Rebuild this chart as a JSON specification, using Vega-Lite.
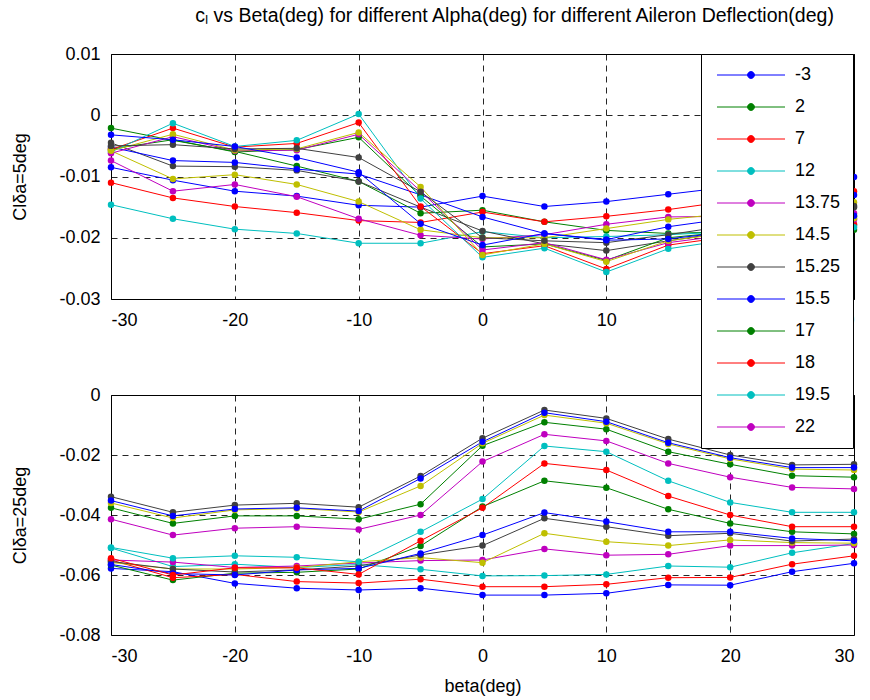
{
"$schema": "https://vega.github.io/schema/vega-lite/v6.json",
"padding": {"left": 11, "top": 6, "right": 14, "bottom": 5},
"title": {"text": "cₗ vs Beta(deg) for different Alpha(deg) for different Aileron Deflection(deg)", "fontSize": 19.5, "fontWeight": "normal", "font": "Liberation Sans", "color": "black", "offset": 18, "anchor": "middle", "dx": 80},
"config": {
  "font": "Liberation Sans",
  "locale": {"number": {"decimal": ".", "thousands": ",", "grouping": [3], "currency": ["$", ""], "minus": "-"}},
  "view": {"stroke": "black", "strokeWidth": 1},
  "axis": {"grid": true, "gridColor": "black", "gridDash": [6, 5], "gridOpacity": 0.85, "gridWidth": 1, "domain": false, "ticks": false, "labelFontSize": 18, "labelColor": "black", "titleFontSize": 18, "titleFontWeight": "normal", "titleColor": "black", "labelFont": "Liberation Sans", "titleFont": "Liberation Sans"},
  "axisX": {"labelPadding": 12},
  "axisY": {"labelPadding": 11, "titlePadding": 29},
  "legend": {"orient": "none"}
},
"spacing": 55,
"datasets": {
"cl": [
{"panel":"top","alpha":"-3","beta":-30,"cl":-0.0085},{"panel":"top","alpha":"-3","beta":-25,"cl":-0.0106},{"panel":"top","alpha":"-3","beta":-20,"cl":-0.0124},{"panel":"top","alpha":"-3","beta":-15,"cl":-0.0132},{"panel":"top","alpha":"-3","beta":-10,"cl":-0.0147},{"panel":"top","alpha":"-3","beta":-5,"cl":-0.0150},{"panel":"top","alpha":"-3","beta":0,"cl":-0.0132},{"panel":"top","alpha":"-3","beta":5,"cl":-0.0149},{"panel":"top","alpha":"-3","beta":10,"cl":-0.0141},{"panel":"top","alpha":"-3","beta":15,"cl":-0.0129},{"panel":"top","alpha":"-3","beta":20,"cl":-0.0117},{"panel":"top","alpha":"-3","beta":25,"cl":-0.0108},{"panel":"top","alpha":"-3","beta":30,"cl":-0.0101},
{"panel":"top","alpha":"2","beta":-30,"cl":-0.0021},{"panel":"top","alpha":"2","beta":-25,"cl":-0.0041},{"panel":"top","alpha":"2","beta":-20,"cl":-0.0059},{"panel":"top","alpha":"2","beta":-15,"cl":-0.0083},{"panel":"top","alpha":"2","beta":-10,"cl":-0.0108},{"panel":"top","alpha":"2","beta":-5,"cl":-0.0160},{"panel":"top","alpha":"2","beta":0,"cl":-0.0155},{"panel":"top","alpha":"2","beta":5,"cl":-0.0174},{"panel":"top","alpha":"2","beta":10,"cl":-0.0188},{"panel":"top","alpha":"2","beta":15,"cl":-0.0193},{"panel":"top","alpha":"2","beta":20,"cl":-0.0190},{"panel":"top","alpha":"2","beta":25,"cl":-0.0189},{"panel":"top","alpha":"2","beta":30,"cl":-0.0187},
{"panel":"top","alpha":"7","beta":-30,"cl":-0.0110},{"panel":"top","alpha":"7","beta":-25,"cl":-0.0135},{"panel":"top","alpha":"7","beta":-20,"cl":-0.0149},{"panel":"top","alpha":"7","beta":-15,"cl":-0.0159},{"panel":"top","alpha":"7","beta":-10,"cl":-0.0172},{"panel":"top","alpha":"7","beta":-5,"cl":-0.0175},{"panel":"top","alpha":"7","beta":0,"cl":-0.0158},{"panel":"top","alpha":"7","beta":5,"cl":-0.0174},{"panel":"top","alpha":"7","beta":10,"cl":-0.0165},{"panel":"top","alpha":"7","beta":15,"cl":-0.0154},{"panel":"top","alpha":"7","beta":20,"cl":-0.0140},{"panel":"top","alpha":"7","beta":25,"cl":-0.0132},{"panel":"top","alpha":"7","beta":30,"cl":-0.0124},
{"panel":"top","alpha":"12","beta":-30,"cl":-0.0146},{"panel":"top","alpha":"12","beta":-25,"cl":-0.0169},{"panel":"top","alpha":"12","beta":-20,"cl":-0.0186},{"panel":"top","alpha":"12","beta":-15,"cl":-0.0193},{"panel":"top","alpha":"12","beta":-10,"cl":-0.0209},{"panel":"top","alpha":"12","beta":-5,"cl":-0.0209},{"panel":"top","alpha":"12","beta":0,"cl":-0.0190},{"panel":"top","alpha":"12","beta":5,"cl":-0.0200},{"panel":"top","alpha":"12","beta":10,"cl":-0.0198},{"panel":"top","alpha":"12","beta":15,"cl":-0.0195},{"panel":"top","alpha":"12","beta":20,"cl":-0.0190},{"panel":"top","alpha":"12","beta":25,"cl":-0.0185},{"panel":"top","alpha":"12","beta":30,"cl":-0.0180},
{"panel":"top","alpha":"13.75","beta":-30,"cl":-0.0074},{"panel":"top","alpha":"13.75","beta":-25,"cl":-0.0124},{"panel":"top","alpha":"13.75","beta":-20,"cl":-0.0113},{"panel":"top","alpha":"13.75","beta":-15,"cl":-0.0133},{"panel":"top","alpha":"13.75","beta":-10,"cl":-0.0169},{"panel":"top","alpha":"13.75","beta":-5,"cl":-0.0196},{"panel":"top","alpha":"13.75","beta":0,"cl":-0.0202},{"panel":"top","alpha":"13.75","beta":5,"cl":-0.0195},{"panel":"top","alpha":"13.75","beta":10,"cl":-0.0178},{"panel":"top","alpha":"13.75","beta":15,"cl":-0.0166},{"panel":"top","alpha":"13.75","beta":20,"cl":-0.0165},{"panel":"top","alpha":"13.75","beta":25,"cl":-0.0162},{"panel":"top","alpha":"13.75","beta":30,"cl":-0.0160},
{"panel":"top","alpha":"14.5","beta":-30,"cl":-0.0058},{"panel":"top","alpha":"14.5","beta":-25,"cl":-0.0104},{"panel":"top","alpha":"14.5","beta":-20,"cl":-0.0097},{"panel":"top","alpha":"14.5","beta":-15,"cl":-0.0113},{"panel":"top","alpha":"14.5","beta":-10,"cl":-0.0141},{"panel":"top","alpha":"14.5","beta":-5,"cl":-0.0187},{"panel":"top","alpha":"14.5","beta":0,"cl":-0.0200},{"panel":"top","alpha":"14.5","beta":5,"cl":-0.0200},{"panel":"top","alpha":"14.5","beta":10,"cl":-0.0185},{"panel":"top","alpha":"14.5","beta":15,"cl":-0.0170},{"panel":"top","alpha":"14.5","beta":20,"cl":-0.0160},{"panel":"top","alpha":"14.5","beta":25,"cl":-0.0150},{"panel":"top","alpha":"14.5","beta":30,"cl":-0.0142},
{"panel":"top","alpha":"15.25","beta":-30,"cl":-0.0045},{"panel":"top","alpha":"15.25","beta":-25,"cl":-0.0083},{"panel":"top","alpha":"15.25","beta":-20,"cl":-0.0084},{"panel":"top","alpha":"15.25","beta":-15,"cl":-0.0090},{"panel":"top","alpha":"15.25","beta":-10,"cl":-0.0108},{"panel":"top","alpha":"15.25","beta":-5,"cl":-0.0150},{"panel":"top","alpha":"15.25","beta":0,"cl":-0.0189},{"panel":"top","alpha":"15.25","beta":5,"cl":-0.0210},{"panel":"top","alpha":"15.25","beta":10,"cl":-0.0221},{"panel":"top","alpha":"15.25","beta":15,"cl":-0.0205},{"panel":"top","alpha":"15.25","beta":20,"cl":-0.0190},{"panel":"top","alpha":"15.25","beta":25,"cl":-0.0170},{"panel":"top","alpha":"15.25","beta":30,"cl":-0.0150},
{"panel":"top","alpha":"15.5","beta":-30,"cl":-0.0052},{"panel":"top","alpha":"15.5","beta":-25,"cl":-0.0074},{"panel":"top","alpha":"15.5","beta":-20,"cl":-0.0077},{"panel":"top","alpha":"15.5","beta":-15,"cl":-0.0088},{"panel":"top","alpha":"15.5","beta":-10,"cl":-0.0096},{"panel":"top","alpha":"15.5","beta":-5,"cl":-0.0130},{"panel":"top","alpha":"15.5","beta":0,"cl":-0.0166},{"panel":"top","alpha":"15.5","beta":5,"cl":-0.0193},{"panel":"top","alpha":"15.5","beta":10,"cl":-0.0203},{"panel":"top","alpha":"15.5","beta":15,"cl":-0.0182},{"panel":"top","alpha":"15.5","beta":20,"cl":-0.0168},{"panel":"top","alpha":"15.5","beta":25,"cl":-0.0150},{"panel":"top","alpha":"15.5","beta":30,"cl":-0.0130},
{"panel":"top","alpha":"17","beta":-30,"cl":-0.0055},{"panel":"top","alpha":"17","beta":-25,"cl":-0.0040},{"panel":"top","alpha":"17","beta":-20,"cl":-0.0060},{"panel":"top","alpha":"17","beta":-15,"cl":-0.0056},{"panel":"top","alpha":"17","beta":-10,"cl":-0.0036},{"panel":"top","alpha":"17","beta":-5,"cl":-0.0132},{"panel":"top","alpha":"17","beta":0,"cl":-0.0215},{"panel":"top","alpha":"17","beta":5,"cl":-0.0210},{"panel":"top","alpha":"17","beta":10,"cl":-0.0237},{"panel":"top","alpha":"17","beta":15,"cl":-0.0200},{"panel":"top","alpha":"17","beta":20,"cl":-0.0190},{"panel":"top","alpha":"17","beta":25,"cl":-0.0175},{"panel":"top","alpha":"17","beta":30,"cl":-0.0165},
{"panel":"top","alpha":"18","beta":-30,"cl":-0.0056},{"panel":"top","alpha":"18","beta":-25,"cl":-0.0021},{"panel":"top","alpha":"18","beta":-20,"cl":-0.0052},{"panel":"top","alpha":"18","beta":-15,"cl":-0.0046},{"panel":"top","alpha":"18","beta":-10,"cl":-0.0012},{"panel":"top","alpha":"18","beta":-5,"cl":-0.0149},{"panel":"top","alpha":"18","beta":0,"cl":-0.0226},{"panel":"top","alpha":"18","beta":5,"cl":-0.0213},{"panel":"top","alpha":"18","beta":10,"cl":-0.0251},{"panel":"top","alpha":"18","beta":15,"cl":-0.0212},{"panel":"top","alpha":"18","beta":20,"cl":-0.0198},{"panel":"top","alpha":"18","beta":25,"cl":-0.0188},{"panel":"top","alpha":"18","beta":30,"cl":-0.0178},
{"panel":"top","alpha":"19.5","beta":-30,"cl":-0.0060},{"panel":"top","alpha":"19.5","beta":-25,"cl":-0.0013},{"panel":"top","alpha":"19.5","beta":-20,"cl":-0.0051},{"panel":"top","alpha":"19.5","beta":-15,"cl":-0.0041},{"panel":"top","alpha":"19.5","beta":-10,"cl":0.0002},{"panel":"top","alpha":"19.5","beta":-5,"cl":-0.0136},{"panel":"top","alpha":"19.5","beta":0,"cl":-0.0232},{"panel":"top","alpha":"19.5","beta":5,"cl":-0.0217},{"panel":"top","alpha":"19.5","beta":10,"cl":-0.0256},{"panel":"top","alpha":"19.5","beta":15,"cl":-0.0218},{"panel":"top","alpha":"19.5","beta":20,"cl":-0.0203},{"panel":"top","alpha":"19.5","beta":25,"cl":-0.0193},{"panel":"top","alpha":"19.5","beta":30,"cl":-0.0183},
{"panel":"top","alpha":"22","beta":-30,"cl":-0.0062},{"panel":"top","alpha":"22","beta":-25,"cl":-0.0035},{"panel":"top","alpha":"22","beta":-20,"cl":-0.0058},{"panel":"top","alpha":"22","beta":-15,"cl":-0.0057},{"panel":"top","alpha":"22","beta":-10,"cl":-0.0031},{"panel":"top","alpha":"22","beta":-5,"cl":-0.0124},{"panel":"top","alpha":"22","beta":0,"cl":-0.0220},{"panel":"top","alpha":"22","beta":5,"cl":-0.0208},{"panel":"top","alpha":"22","beta":10,"cl":-0.0236},{"panel":"top","alpha":"22","beta":15,"cl":-0.0208},{"panel":"top","alpha":"22","beta":20,"cl":-0.0195},{"panel":"top","alpha":"22","beta":25,"cl":-0.0180},{"panel":"top","alpha":"22","beta":30,"cl":-0.0170},
{"panel":"top","alpha":"25","beta":-30,"cl":-0.0058},{"panel":"top","alpha":"25","beta":-25,"cl":-0.0031},{"panel":"top","alpha":"25","beta":-20,"cl":-0.0057},{"panel":"top","alpha":"25","beta":-15,"cl":-0.0055},{"panel":"top","alpha":"25","beta":-10,"cl":-0.0028},{"panel":"top","alpha":"25","beta":-5,"cl":-0.0117},{"panel":"top","alpha":"25","beta":0,"cl":-0.0228},{"panel":"top","alpha":"25","beta":5,"cl":-0.0210},{"panel":"top","alpha":"25","beta":10,"cl":-0.0239},{"panel":"top","alpha":"25","beta":15,"cl":-0.0205},{"panel":"top","alpha":"25","beta":20,"cl":-0.0192},{"panel":"top","alpha":"25","beta":25,"cl":-0.0180},{"panel":"top","alpha":"25","beta":30,"cl":-0.0168},
{"panel":"top","alpha":"27.5","beta":-30,"cl":-0.0050},{"panel":"top","alpha":"27.5","beta":-25,"cl":-0.0048},{"panel":"top","alpha":"27.5","beta":-20,"cl":-0.0055},{"panel":"top","alpha":"27.5","beta":-15,"cl":-0.0054},{"panel":"top","alpha":"27.5","beta":-10,"cl":-0.0069},{"panel":"top","alpha":"27.5","beta":-5,"cl":-0.0125},{"panel":"top","alpha":"27.5","beta":0,"cl":-0.0200},{"panel":"top","alpha":"27.5","beta":5,"cl":-0.0205},{"panel":"top","alpha":"27.5","beta":10,"cl":-0.0208},{"panel":"top","alpha":"27.5","beta":15,"cl":-0.0195},{"panel":"top","alpha":"27.5","beta":20,"cl":-0.0180},{"panel":"top","alpha":"27.5","beta":25,"cl":-0.0165},{"panel":"top","alpha":"27.5","beta":30,"cl":-0.0148},
{"panel":"top","alpha":"30","beta":-30,"cl":-0.0032},{"panel":"top","alpha":"30","beta":-25,"cl":-0.0040},{"panel":"top","alpha":"30","beta":-20,"cl":-0.0051},{"panel":"top","alpha":"30","beta":-15,"cl":-0.0069},{"panel":"top","alpha":"30","beta":-10,"cl":-0.0093},{"panel":"top","alpha":"30","beta":-5,"cl":-0.0177},{"panel":"top","alpha":"30","beta":0,"cl":-0.0212},{"panel":"top","alpha":"30","beta":5,"cl":-0.0193},{"panel":"top","alpha":"30","beta":10,"cl":-0.0204},{"panel":"top","alpha":"30","beta":15,"cl":-0.0202},{"panel":"top","alpha":"30","beta":20,"cl":-0.0190},{"panel":"top","alpha":"30","beta":25,"cl":-0.0178},{"panel":"top","alpha":"30","beta":30,"cl":-0.0164},
{"panel":"bottom","alpha":"-3","beta":-30,"cl":-0.0578},{"panel":"bottom","alpha":"-3","beta":-25,"cl":-0.0589},{"panel":"bottom","alpha":"-3","beta":-20,"cl":-0.0628},{"panel":"bottom","alpha":"-3","beta":-15,"cl":-0.0644},{"panel":"bottom","alpha":"-3","beta":-10,"cl":-0.0650},{"panel":"bottom","alpha":"-3","beta":-5,"cl":-0.0644},{"panel":"bottom","alpha":"-3","beta":0,"cl":-0.0667},{"panel":"bottom","alpha":"-3","beta":5,"cl":-0.0667},{"panel":"bottom","alpha":"-3","beta":10,"cl":-0.0661},{"panel":"bottom","alpha":"-3","beta":15,"cl":-0.0633},{"panel":"bottom","alpha":"-3","beta":20,"cl":-0.0634},{"panel":"bottom","alpha":"-3","beta":25,"cl":-0.0589},{"panel":"bottom","alpha":"-3","beta":30,"cl":-0.0561},
{"panel":"bottom","alpha":"2","beta":-30,"cl":-0.0567},{"panel":"bottom","alpha":"2","beta":-25,"cl":-0.0617},{"panel":"bottom","alpha":"2","beta":-20,"cl":-0.0594},{"panel":"bottom","alpha":"2","beta":-15,"cl":-0.0591},{"panel":"bottom","alpha":"2","beta":-10,"cl":-0.0580},{"panel":"bottom","alpha":"2","beta":-5,"cl":-0.0503},{"panel":"bottom","alpha":"2","beta":0,"cl":-0.0372},{"panel":"bottom","alpha":"2","beta":5,"cl":-0.0286},{"panel":"bottom","alpha":"2","beta":10,"cl":-0.0309},{"panel":"bottom","alpha":"2","beta":15,"cl":-0.0381},{"panel":"bottom","alpha":"2","beta":20,"cl":-0.0428},{"panel":"bottom","alpha":"2","beta":25,"cl":-0.0456},{"panel":"bottom","alpha":"2","beta":30,"cl":-0.0463},
{"panel":"bottom","alpha":"7","beta":-30,"cl":-0.0550},{"panel":"bottom","alpha":"7","beta":-25,"cl":-0.0609},{"panel":"bottom","alpha":"7","beta":-20,"cl":-0.0598},{"panel":"bottom","alpha":"7","beta":-15,"cl":-0.0622},{"panel":"bottom","alpha":"7","beta":-10,"cl":-0.0627},{"panel":"bottom","alpha":"7","beta":-5,"cl":-0.0614},{"panel":"bottom","alpha":"7","beta":0,"cl":-0.0639},{"panel":"bottom","alpha":"7","beta":5,"cl":-0.0639},{"panel":"bottom","alpha":"7","beta":10,"cl":-0.0631},{"panel":"bottom","alpha":"7","beta":15,"cl":-0.0609},{"panel":"bottom","alpha":"7","beta":20,"cl":-0.0608},{"panel":"bottom","alpha":"7","beta":25,"cl":-0.0564},{"panel":"bottom","alpha":"7","beta":30,"cl":-0.0536},
{"panel":"bottom","alpha":"12","beta":-30,"cl":-0.0510},{"panel":"bottom","alpha":"12","beta":-25,"cl":-0.0572},{"panel":"bottom","alpha":"12","beta":-20,"cl":-0.0564},{"panel":"bottom","alpha":"12","beta":-15,"cl":-0.0575},{"panel":"bottom","alpha":"12","beta":-10,"cl":-0.0565},{"panel":"bottom","alpha":"12","beta":-5,"cl":-0.0581},{"panel":"bottom","alpha":"12","beta":0,"cl":-0.0603},{"panel":"bottom","alpha":"12","beta":5,"cl":-0.0602},{"panel":"bottom","alpha":"12","beta":10,"cl":-0.0598},{"panel":"bottom","alpha":"12","beta":15,"cl":-0.0570},{"panel":"bottom","alpha":"12","beta":20,"cl":-0.0574},{"panel":"bottom","alpha":"12","beta":25,"cl":-0.0526},{"panel":"bottom","alpha":"12","beta":30,"cl":-0.0495},
{"panel":"bottom","alpha":"13.75","beta":-30,"cl":-0.0550},{"panel":"bottom","alpha":"13.75","beta":-25,"cl":-0.0557},{"panel":"bottom","alpha":"13.75","beta":-20,"cl":-0.0575},{"panel":"bottom","alpha":"13.75","beta":-15,"cl":-0.0570},{"panel":"bottom","alpha":"13.75","beta":-10,"cl":-0.0560},{"panel":"bottom","alpha":"13.75","beta":-5,"cl":-0.0552},{"panel":"bottom","alpha":"13.75","beta":0,"cl":-0.0550},{"panel":"bottom","alpha":"13.75","beta":5,"cl":-0.0513},{"panel":"bottom","alpha":"13.75","beta":10,"cl":-0.0534},{"panel":"bottom","alpha":"13.75","beta":15,"cl":-0.0531},{"panel":"bottom","alpha":"13.75","beta":20,"cl":-0.0502},{"panel":"bottom","alpha":"13.75","beta":25,"cl":-0.0502},{"panel":"bottom","alpha":"13.75","beta":30,"cl":-0.0500},
{"panel":"bottom","alpha":"14.5","beta":-30,"cl":-0.0558},{"panel":"bottom","alpha":"14.5","beta":-25,"cl":-0.0580},{"panel":"bottom","alpha":"14.5","beta":-20,"cl":-0.0580},{"panel":"bottom","alpha":"14.5","beta":-15,"cl":-0.0575},{"panel":"bottom","alpha":"14.5","beta":-10,"cl":-0.0556},{"panel":"bottom","alpha":"14.5","beta":-5,"cl":-0.0542},{"panel":"bottom","alpha":"14.5","beta":0,"cl":-0.0559},{"panel":"bottom","alpha":"14.5","beta":5,"cl":-0.0461},{"panel":"bottom","alpha":"14.5","beta":10,"cl":-0.0489},{"panel":"bottom","alpha":"14.5","beta":15,"cl":-0.0502},{"panel":"bottom","alpha":"14.5","beta":20,"cl":-0.0483},{"panel":"bottom","alpha":"14.5","beta":25,"cl":-0.0492},{"panel":"bottom","alpha":"14.5","beta":30,"cl":-0.0494},
{"panel":"bottom","alpha":"15.25","beta":-30,"cl":-0.0555},{"panel":"bottom","alpha":"15.25","beta":-25,"cl":-0.0580},{"panel":"bottom","alpha":"15.25","beta":-20,"cl":-0.0590},{"panel":"bottom","alpha":"15.25","beta":-15,"cl":-0.0583},{"panel":"bottom","alpha":"15.25","beta":-10,"cl":-0.0570},{"panel":"bottom","alpha":"15.25","beta":-5,"cl":-0.0533},{"panel":"bottom","alpha":"15.25","beta":0,"cl":-0.0502},{"panel":"bottom","alpha":"15.25","beta":5,"cl":-0.0411},{"panel":"bottom","alpha":"15.25","beta":10,"cl":-0.0439},{"panel":"bottom","alpha":"15.25","beta":15,"cl":-0.0469},{"panel":"bottom","alpha":"15.25","beta":20,"cl":-0.0461},{"panel":"bottom","alpha":"15.25","beta":25,"cl":-0.0487},{"panel":"bottom","alpha":"15.25","beta":30,"cl":-0.0480},
{"panel":"bottom","alpha":"15.5","beta":-30,"cl":-0.0565},{"panel":"bottom","alpha":"15.5","beta":-25,"cl":-0.0595},{"panel":"bottom","alpha":"15.5","beta":-20,"cl":-0.0600},{"panel":"bottom","alpha":"15.5","beta":-15,"cl":-0.0583},{"panel":"bottom","alpha":"15.5","beta":-10,"cl":-0.0578},{"panel":"bottom","alpha":"15.5","beta":-5,"cl":-0.0528},{"panel":"bottom","alpha":"15.5","beta":0,"cl":-0.0467},{"panel":"bottom","alpha":"15.5","beta":5,"cl":-0.0392},{"panel":"bottom","alpha":"15.5","beta":10,"cl":-0.0422},{"panel":"bottom","alpha":"15.5","beta":15,"cl":-0.0456},{"panel":"bottom","alpha":"15.5","beta":20,"cl":-0.0456},{"panel":"bottom","alpha":"15.5","beta":25,"cl":-0.0478},{"panel":"bottom","alpha":"15.5","beta":30,"cl":-0.0486},
{"panel":"bottom","alpha":"17","beta":-30,"cl":-0.0376},{"panel":"bottom","alpha":"17","beta":-25,"cl":-0.0428},{"panel":"bottom","alpha":"17","beta":-20,"cl":-0.0403},{"panel":"bottom","alpha":"17","beta":-15,"cl":-0.0403},{"panel":"bottom","alpha":"17","beta":-10,"cl":-0.0414},{"panel":"bottom","alpha":"17","beta":-5,"cl":-0.0364},{"panel":"bottom","alpha":"17","beta":0,"cl":-0.0169},{"panel":"bottom","alpha":"17","beta":5,"cl":-0.0091},{"panel":"bottom","alpha":"17","beta":10,"cl":-0.0114},{"panel":"bottom","alpha":"17","beta":15,"cl":-0.0189},{"panel":"bottom","alpha":"17","beta":20,"cl":-0.0231},{"panel":"bottom","alpha":"17","beta":25,"cl":-0.0269},{"panel":"bottom","alpha":"17","beta":30,"cl":-0.0274},
{"panel":"bottom","alpha":"18","beta":-30,"cl":-0.0544},{"panel":"bottom","alpha":"18","beta":-25,"cl":-0.0600},{"panel":"bottom","alpha":"18","beta":-20,"cl":-0.0576},{"panel":"bottom","alpha":"18","beta":-15,"cl":-0.0576},{"panel":"bottom","alpha":"18","beta":-10,"cl":-0.0598},{"panel":"bottom","alpha":"18","beta":-5,"cl":-0.0486},{"panel":"bottom","alpha":"18","beta":0,"cl":-0.0376},{"panel":"bottom","alpha":"18","beta":5,"cl":-0.0228},{"panel":"bottom","alpha":"18","beta":10,"cl":-0.0250},{"panel":"bottom","alpha":"18","beta":15,"cl":-0.0337},{"panel":"bottom","alpha":"18","beta":20,"cl":-0.0400},{"panel":"bottom","alpha":"18","beta":25,"cl":-0.0439},{"panel":"bottom","alpha":"18","beta":30,"cl":-0.0439},
{"panel":"bottom","alpha":"19.5","beta":-30,"cl":-0.0508},{"panel":"bottom","alpha":"19.5","beta":-25,"cl":-0.0544},{"panel":"bottom","alpha":"19.5","beta":-20,"cl":-0.0536},{"panel":"bottom","alpha":"19.5","beta":-15,"cl":-0.0541},{"panel":"bottom","alpha":"19.5","beta":-10,"cl":-0.0556},{"panel":"bottom","alpha":"19.5","beta":-5,"cl":-0.0456},{"panel":"bottom","alpha":"19.5","beta":0,"cl":-0.0347},{"panel":"bottom","alpha":"19.5","beta":5,"cl":-0.0170},{"panel":"bottom","alpha":"19.5","beta":10,"cl":-0.0189},{"panel":"bottom","alpha":"19.5","beta":15,"cl":-0.0286},{"panel":"bottom","alpha":"19.5","beta":20,"cl":-0.0358},{"panel":"bottom","alpha":"19.5","beta":25,"cl":-0.0391},{"panel":"bottom","alpha":"19.5","beta":30,"cl":-0.0391},
{"panel":"bottom","alpha":"22","beta":-30,"cl":-0.0414},{"panel":"bottom","alpha":"22","beta":-25,"cl":-0.0467},{"panel":"bottom","alpha":"22","beta":-20,"cl":-0.0444},{"panel":"bottom","alpha":"22","beta":-15,"cl":-0.0439},{"panel":"bottom","alpha":"22","beta":-10,"cl":-0.0448},{"panel":"bottom","alpha":"22","beta":-5,"cl":-0.0400},{"panel":"bottom","alpha":"22","beta":0,"cl":-0.0222},{"panel":"bottom","alpha":"22","beta":5,"cl":-0.0131},{"panel":"bottom","alpha":"22","beta":10,"cl":-0.0153},{"panel":"bottom","alpha":"22","beta":15,"cl":-0.0228},{"panel":"bottom","alpha":"22","beta":20,"cl":-0.0274},{"panel":"bottom","alpha":"22","beta":25,"cl":-0.0308},{"panel":"bottom","alpha":"22","beta":30,"cl":-0.0313},
{"panel":"bottom","alpha":"25","beta":-30,"cl":-0.0360},{"panel":"bottom","alpha":"25","beta":-25,"cl":-0.0410},{"panel":"bottom","alpha":"25","beta":-20,"cl":-0.0383},{"panel":"bottom","alpha":"25","beta":-15,"cl":-0.0378},{"panel":"bottom","alpha":"25","beta":-10,"cl":-0.0390},{"panel":"bottom","alpha":"25","beta":-5,"cl":-0.0303},{"panel":"bottom","alpha":"25","beta":0,"cl":-0.0161},{"panel":"bottom","alpha":"25","beta":5,"cl":-0.0067},{"panel":"bottom","alpha":"25","beta":10,"cl":-0.0094},{"panel":"bottom","alpha":"25","beta":15,"cl":-0.0163},{"panel":"bottom","alpha":"25","beta":20,"cl":-0.0213},{"panel":"bottom","alpha":"25","beta":25,"cl":-0.0247},{"panel":"bottom","alpha":"25","beta":30,"cl":-0.0250},
{"panel":"bottom","alpha":"27.5","beta":-30,"cl":-0.0339},{"panel":"bottom","alpha":"27.5","beta":-25,"cl":-0.0391},{"panel":"bottom","alpha":"27.5","beta":-20,"cl":-0.0367},{"panel":"bottom","alpha":"27.5","beta":-15,"cl":-0.0361},{"panel":"bottom","alpha":"27.5","beta":-10,"cl":-0.0374},{"panel":"bottom","alpha":"27.5","beta":-5,"cl":-0.0270},{"panel":"bottom","alpha":"27.5","beta":0,"cl":-0.0144},{"panel":"bottom","alpha":"27.5","beta":5,"cl":-0.0050},{"panel":"bottom","alpha":"27.5","beta":10,"cl":-0.0078},{"panel":"bottom","alpha":"27.5","beta":15,"cl":-0.0147},{"panel":"bottom","alpha":"27.5","beta":20,"cl":-0.0200},{"panel":"bottom","alpha":"27.5","beta":25,"cl":-0.0233},{"panel":"bottom","alpha":"27.5","beta":30,"cl":-0.0231},
{"panel":"bottom","alpha":"30","beta":-30,"cl":-0.0352},{"panel":"bottom","alpha":"30","beta":-25,"cl":-0.0403},{"panel":"bottom","alpha":"30","beta":-20,"cl":-0.0380},{"panel":"bottom","alpha":"30","beta":-15,"cl":-0.0376},{"panel":"bottom","alpha":"30","beta":-10,"cl":-0.0387},{"panel":"bottom","alpha":"30","beta":-5,"cl":-0.0278},{"panel":"bottom","alpha":"30","beta":0,"cl":-0.0156},{"panel":"bottom","alpha":"30","beta":5,"cl":-0.0059},{"panel":"bottom","alpha":"30","beta":10,"cl":-0.0089},{"panel":"bottom","alpha":"30","beta":15,"cl":-0.0159},{"panel":"bottom","alpha":"30","beta":20,"cl":-0.0209},{"panel":"bottom","alpha":"30","beta":25,"cl":-0.0242},{"panel":"bottom","alpha":"30","beta":30,"cl":-0.0242}
]
},
"vconcat": [
 {
  "width": 743, "height": 245,
  "data": {"name": "cl"},
  "transform": [{"filter": "datum.panel === 'top'"}],
  "encoding": {
    "x": {"field": "beta", "type": "quantitative", "scale": {"domain": [-30, 30], "nice": false}, "axis": {"values": [-30, -20, -10, 0, 10, 20, 30], "title": null}},
    "y": {"field": "cl", "type": "quantitative", "scale": {"domain": [-0.03, 0.01], "nice": false, "zero": false}, "axis": {"values": [-0.03, -0.02, -0.01, 0, 0.01], "format": "~g", "title": "Clδa=5deg"}},
    "color": {"field": "alpha", "type": "nominal",
      "scale": {"domain": ["-3","2","7","12","13.75","14.5","15.25","15.5","17","18","19.5","22","25","27.5","30"], "range": ["#0000FF","#008000","#FF0000","#00BFBF","#BF00BF","#BFBF00","#404040","#0000FF","#008000","#FF0000","#00BFBF","#BF00BF","#BFBF00","#404040","#0000FF"]},
      "legend": {"values": ["-3","2","7","12","13.75","14.5","15.25","15.5","17","18","19.5","22"], "title": null, "orient": "none", "legendX": 590, "legendY": 0, "fillColor": "white", "strokeColor": "black", "padding": 12, "labelFontSize": 18, "labelColor": "black", "labelFont": "Liberation Sans", "rowPadding": 14, "labelOffset": 35, "symbolOffset": 29, "symbolSize": 185, "symbolStrokeWidth": 1, "symbolType": "M-5,0L5,0M-0.5,0A0.5,0.5,0,1,1,0.5,0A0.5,0.5,0,1,1,-0.5,0Z",
        "encode": {"symbols": {"update": {"fill": {"scale": "color", "field": "value"}, "stroke": {"scale": "color", "field": "value"}, "opacity": {"value": 1}}}}}}
  },
  "layer": [
    {"mark": {"type": "line", "strokeWidth": 1}},
    {"mark": {"type": "point", "filled": true, "size": 42, "opacity": 1}}
  ]
 },
 {
  "width": 743, "height": 240,
  "data": {"name": "cl"},
  "transform": [{"filter": "datum.panel === 'bottom'"}],
  "encoding": {
    "x": {"field": "beta", "type": "quantitative", "scale": {"domain": [-30, 30], "nice": false}, "axis": {"values": [-30, -20, -10, 0, 10, 20, 30], "title": "beta(deg)", "titlePadding": 12}},
    "y": {"field": "cl", "type": "quantitative", "scale": {"domain": [-0.08, 0], "nice": false, "zero": false}, "axis": {"values": [-0.08, -0.06, -0.04, -0.02, 0], "format": "~g", "title": "Clδa=25deg"}},
    "color": {"field": "alpha", "type": "nominal",
      "scale": {"domain": ["-3","2","7","12","13.75","14.5","15.25","15.5","17","18","19.5","22","25","27.5","30"], "range": ["#0000FF","#008000","#FF0000","#00BFBF","#BF00BF","#BFBF00","#404040","#0000FF","#008000","#FF0000","#00BFBF","#BF00BF","#BFBF00","#404040","#0000FF"]}}
  },
  "layer": [
    {"mark": {"type": "line", "strokeWidth": 1}},
    {"mark": {"type": "point", "filled": true, "size": 42, "opacity": 1}}
  ]
 }
]
}
